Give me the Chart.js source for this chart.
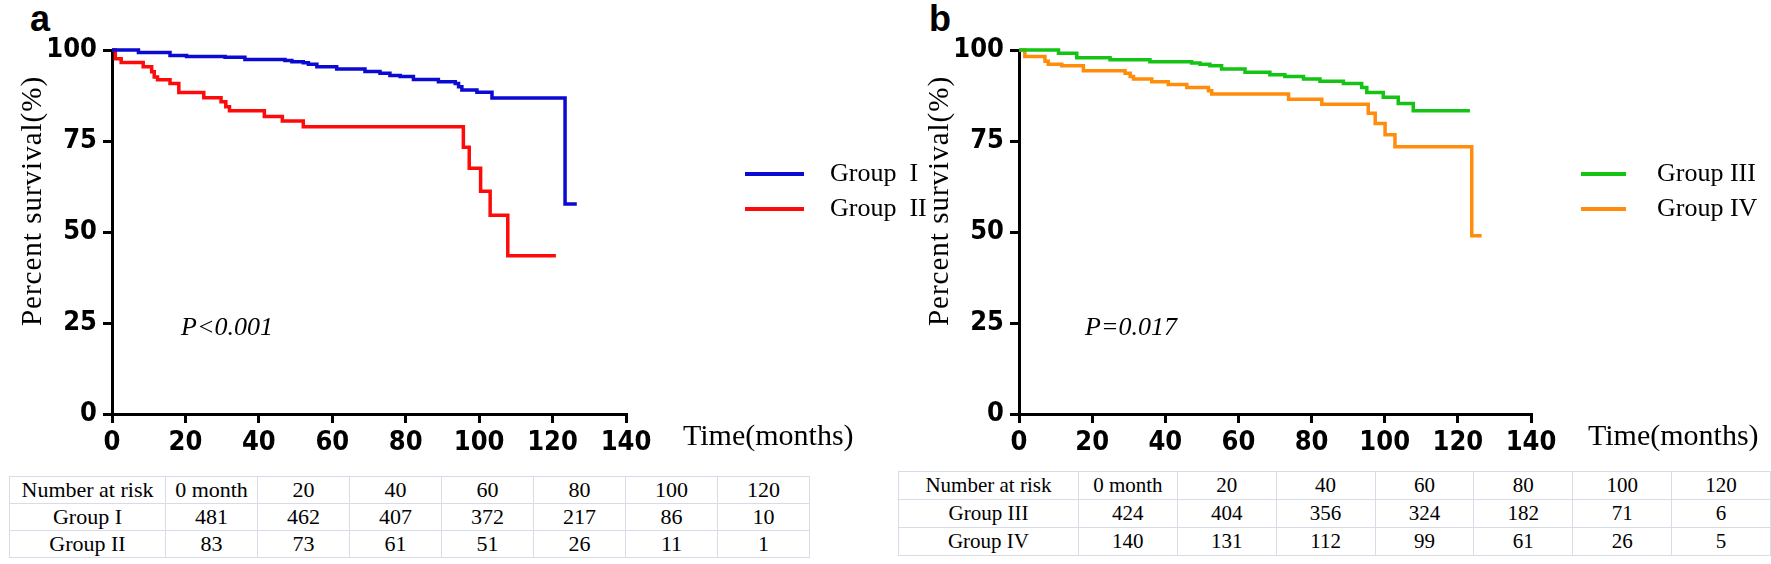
<!DOCTYPE html>
<html>
<head>
<meta charset="utf-8">
<script src="https://cdn.jsdelivr.net/npm/chart.js@4.4.1/dist/chart.umd.min.js"></script>
<style>
  html, body { margin: 0; padding: 0; background: #fff; }
  body { width: 1771px; height: 564px; position: relative; overflow: hidden; }
  canvas { position: absolute; top: 0; }
  #chartA { left: 0; }
  #chartB { left: 900px; }
  .letter { position: absolute; top: 1px; font: bold 36px 'Liberation Sans', Arial, sans-serif; line-height: 1; }
  table.risk { position: absolute; border-collapse: collapse; font-family: 'Liberation Serif', 'Times New Roman', serif; color: #000; background: #fff; table-layout: fixed; }
  table.risk td { border: 1px solid #d7dce8; text-align: center; padding: 0; white-space: nowrap; }
  #riskA { left: 9px; top: 476px; font-size: 22px; border-top: 1px solid #e3e6ee; }
  #riskB { left: 898px; top: 471px; font-size: 21px; border: 1px solid #c3c7d0; }
</style>
</head>
<body>
<div class="letter" style="left:30px">a</div>
<div class="letter" style="left:929px">b</div>
<canvas id="chartA" width="945" height="470"></canvas>
<canvas id="chartB" width="871" height="470"></canvas>
<table class="risk" id="riskA"></table>
<table class="risk" id="riskB"></table>
<script>
// survival curves (months, percent survival)
const g1Time = [0, 7.2, 15.8, 20.3, 30.8, 36.2, 47.1, 49.0, 52.1, 53.5, 55.8, 61.2, 68.9, 73.0, 75.7, 78.5, 82.1, 88.9, 93.5, 94.4, 95.3, 99.4, 103.5, 123.4, 126.6];
const g1Surv = [100, 99.3, 98.5, 98.2, 98.0, 97.4, 97.1, 96.8, 96.5, 96.1, 95.4, 94.8, 94.1, 93.6, 93.0, 92.7, 91.9, 91.3, 90.8, 89.9, 89.0, 88.4, 86.8, 57.7, 57.7];

const g2Time = [0, 0.9, 2.5, 8.5, 10.8, 11.5, 12.4, 15.8, 18.2, 25.0, 29.7, 31.0, 32.0, 41.5, 46.4, 52.1, 95.7, 97.3, 100.4, 103.0, 107.8, 120.9];
const g2Surv = [100, 97.6, 96.6, 95.4, 94.0, 92.6, 91.8, 90.8, 88.3, 86.9, 85.8, 84.4, 83.3, 81.7, 80.5, 78.9, 73.3, 67.5, 61.2, 54.6, 43.5, 43.5];

const g3Time = [0, 10.8, 15.8, 24.9, 35.8, 47.2, 49.5, 52.2, 55.4, 61.8, 68.6, 72.7, 77.8, 82.3, 88.7, 93.7, 95.1, 99.6, 103.7, 107.8, 123.3];
const g3Surv = [100, 99.1, 97.9, 97.3, 96.8, 96.4, 96.1, 95.7, 94.8, 93.9, 93.2, 92.7, 92.0, 91.4, 90.8, 89.7, 88.3, 87.0, 85.3, 83.3, 83.3];

const g4Time = [0, 1.6, 7.1, 8.0, 11.7, 17.6, 29.0, 30.4, 31.3, 36.3, 40.8, 45.9, 51.8, 52.7, 73.7, 82.8, 95.5, 97.4, 100.1, 102.8, 123.8, 126.5];
const g4Surv = [100, 98.2, 96.9, 96.1, 95.7, 94.3, 93.6, 92.7, 92.0, 91.3, 90.5, 89.7, 88.8, 87.9, 86.5, 85.1, 82.6, 79.8, 76.7, 73.4, 49.0, 49.0];

// number at risk tables
const riskHeader = ['Number at risk', '0 month', '20', '40', '60', '80', '100', '120'];
const riskG1 = [481, 462, 407, 372, 217, 86, 10];
const riskG2 = [83, 73, 61, 51, 26, 11, 1];
const riskG3 = [424, 404, 356, 324, 182, 71, 6];
const riskG4 = [140, 131, 112, 99, 61, 26, 5];

const serif = "'Liberation Serif', 'Times New Roman', serif";
const narrow = "'Liberation Sans Narrow', 'Arial Narrow', 'DejaVu Sans Condensed', sans-serif";

function kmPoints(t, s) {
  return t.map((x, i) => ({ x: x, y: s[i] }));
}

// legend, p value, axis titles drawn on top of the chart
const annotate = {
  id: 'annotate',
  afterDraw(chart, args, o) {
    const ctx = chart.ctx;
    const area = chart.chartArea;
    ctx.save();
    ctx.textBaseline = 'middle';
    chart.data.datasets.forEach((ds, i) => {
      const ly = o.legendY[i];
      ctx.strokeStyle = ds.borderColor;
      ctx.lineWidth = 4;
      ctx.beginPath();
      ctx.moveTo(o.legendX[0], ly);
      ctx.lineTo(o.legendX[1], ly);
      ctx.stroke();
      ctx.fillStyle = '#000';
      ctx.font = '26px ' + serif;
      ctx.fillText(o.legendText[i], o.legendX[2], ly);
    });
    ctx.font = 'italic 26px ' + serif;
    ctx.fillText(o.pText, o.pPos[0], o.pPos[1]);
    ctx.font = '30px ' + serif;
    ctx.fillText('Time(months)', area.right + 57, 437);

    ctx.translate(o.yTitle[0], o.yTitle[1]);
    ctx.rotate(-Math.PI / 2);
    ctx.textAlign = 'center';
    ctx.font = '29px ' + serif;
    ctx.letterSpacing = '1px';
    ctx.fillText('Percent survival(%)', 0, 0);
    ctx.restore();
  }
};

function makeChart(id, groups, yWidth, padRight, annot) {
  return new Chart(document.getElementById(id), {
    type: 'line',
    data: {
      datasets: groups.map(g => ({
        label: g.label,
        data: kmPoints(g.t, g.s),
        borderColor: g.color,
        borderWidth: 3.5,
        stepped: true,
        pointRadius: 0,
        fill: false,
        clip: false
      }))
    },
    options: {
      responsive: false,
      animation: false,
      layout: { padding: { left: 0, top: 50, right: padRight, bottom: 14 } },
      plugins: {
        legend: { display: false },
        tooltip: { enabled: false },
        annotate: annot
      },
      scales: {
        x: {
          type: 'linear', min: 0, max: 140,
          ticks: { stepSize: 20, color: '#000', padding: 4, maxRotation: 0, font: { family: narrow, size: 27, weight: 'bold' } },
          grid: { drawOnChartArea: false, color: '#000', lineWidth: 3, tickLength: 9 },
          border: { color: '#000', width: 3 },
          afterFit: s => { s.height = 42; }
        },
        y: {
          min: 0, max: 100,
          ticks: { stepSize: 25, color: '#000', padding: 6, font: { family: narrow, size: 27, weight: 'bold' } },
          grid: { drawOnChartArea: false, color: '#000', lineWidth: 3, tickLength: 9 },
          border: { color: '#000', width: 3 },
          afterFit: s => { s.width = yWidth; }
        }
      }
    },
    plugins: [annotate]
  });
}

makeChart('chartA', [
  { label: 'Group I', t: g1Time, s: g1Surv, color: '#0a0ad2' },
  { label: 'Group II', t: g2Time, s: g2Surv, color: '#ff0a0a' }
], 112, 319, {
  legendX: [745, 804, 830], legendY: [174, 209],
  legendText: ['Group\u2002I', 'Group\u2002II'],
  pText: 'P<0.001', pPos: [181, 328],
  yTitle: [33, 201]
});

makeChart('chartB', [
  { label: 'Group III', t: g3Time, s: g3Surv, color: '#14c314' },
  { label: 'Group IV', t: g4Time, s: g4Surv, color: '#ff8c0a' }
], 119, 240, {
  legendX: [681, 726, 757], legendY: [174, 209],
  legendText: ['Group III', 'Group IV'],
  pText: 'P=0.017', pPos: [185, 328],
  yTitle: [40, 201]
});

function fillTable(id, names, rows, firstW, colW, rowH) {
  const tbl = document.getElementById(id);
  const all = [riskHeader].concat(rows.map((r, i) => [names[i]].concat(r)));
  all.forEach(r => {
    const tr = document.createElement('tr');
    r.forEach((v, j) => {
      const td = document.createElement('td');
      td.textContent = v;
      td.style.width = (j === 0 ? firstW : colW) + 'px';
      td.style.height = rowH + 'px';
      tr.appendChild(td);
    });
    tbl.appendChild(tr);
  });
}

fillTable('riskA', ['Group I', 'Group II'], [riskG1, riskG2], 155, 91, 26);
fillTable('riskB', ['Group III', 'Group IV'], [riskG3, riskG4], 179, 98, 27);
</script>
</body>
</html>
